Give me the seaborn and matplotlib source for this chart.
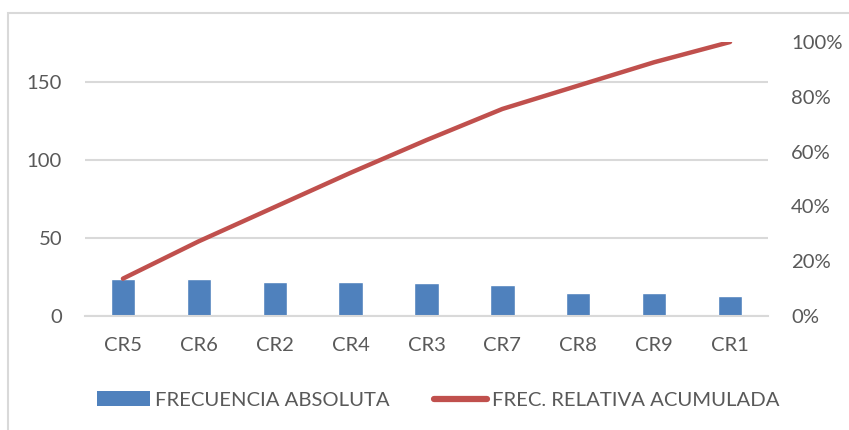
import numpy as np
import pandas as pd
import matplotlib
matplotlib.use("Agg")
import matplotlib.pyplot as plt
import seaborn as sns
from matplotlib.patches import Patch, Rectangle
from matplotlib.lines import Line2D
from matplotlib.ticker import FuncFormatter

categories = ["CR5", "CR6", "CR2", "CR4", "CR3", "CR7", "CR8", "CR9", "CR1"]
frecuencia = [24, 24, 22, 22, 21, 20, 15, 15, 13]
left_ticks = [0, 50, 100, 150]
right_ticks = [0.0, 0.2, 0.4, 0.6, 0.8, 1.0]
label_bar = "FRECUENCIA ABSOLUTA"
label_line = "FREC. RELATIVA ACUMULADA"

total = sum(frecuencia)
df = pd.DataFrame({"criterio": categories, "frecuencia": frecuencia})
df["acumulada"] = df["frecuencia"].cumsum() / total

sns.set_theme(style="white")
plt.rcParams["font.family"] = ["Lato", "DejaVu Sans"]

BLUE = "#4F81BD"
RED = "#C0504D"
GRAY_TXT = "#595959"
GRID = "#D9D9D9"
FS = 14.6

fig = plt.figure(figsize=(8.49, 4.30), dpi=100)
ax = fig.add_axes([85 / 849, 1 - 316 / 430, (768 - 85) / 849, (316 - 42) / 430])

sns.barplot(data=df, x="criterio", y="frecuencia", color=BLUE, width=0.32,
            saturation=1, ax=ax, zorder=2)
ax.set_ylim(0, total)
ax.set_xlim(-0.5, len(categories) - 0.5)
ax.set_yticks(left_ticks)
ax.yaxis.grid(True, color=GRID, linewidth=1.5, zorder=0)
ax.set_axisbelow(True)
ax.set_xlabel("")
ax.set_ylabel("")
for s in ["top", "left", "right"]:
    ax.spines[s].set_visible(False)
ax.spines["bottom"].set_color(GRID)
ax.spines["bottom"].set_linewidth(1.5)
ax.tick_params(axis="both", length=0, labelsize=FS, labelcolor=GRAY_TXT)
ax.tick_params(axis="y", pad=16.5)
ax.tick_params(axis="x", pad=15)

ax2 = ax.twinx()
sns.lineplot(data=df, x="criterio", y="acumulada", sort=False, color=RED,
             linewidth=3.2, ax=ax2, solid_capstyle="round", zorder=3)
ax2.set_ylim(0, 1)
ax2.set_yticks(right_ticks)
ax2.yaxis.set_major_formatter(FuncFormatter(lambda v, p: f"{v * 100:.0f}%"))
ax2.set_ylabel("")
ax2.set_xlabel("")
for s in ["top", "left", "right", "bottom"]:
    ax2.spines[s].set_visible(False)
ax2.tick_params(axis="y", length=0, labelsize=FS, labelcolor=GRAY_TXT, pad=16.5)
ax2.grid(False)

handles = [Patch(facecolor=BLUE, edgecolor="none"),
           Line2D([0], [0], color=RED, linewidth=4.5, solid_capstyle="round")]
fig.legend(handles, [label_bar, label_line], loc="center left",
           bbox_to_anchor=(97 / 849, 1 - 400 / 430), ncol=2, frameon=False,
           fontsize=FS, labelcolor=GRAY_TXT, handlelength=2.6,
           handleheight=0.7, handletextpad=0.25, columnspacing=2.2,
           borderpad=0, borderaxespad=0)

fig.patches.append(Rectangle((8 / 849, -0.1), 1.2, 1 - 13 / 430 + 0.1,
                             transform=fig.transFigure, fill=False,
                             edgecolor=GRID, linewidth=1.5))

fig.savefig("out.png", dpi=100)
